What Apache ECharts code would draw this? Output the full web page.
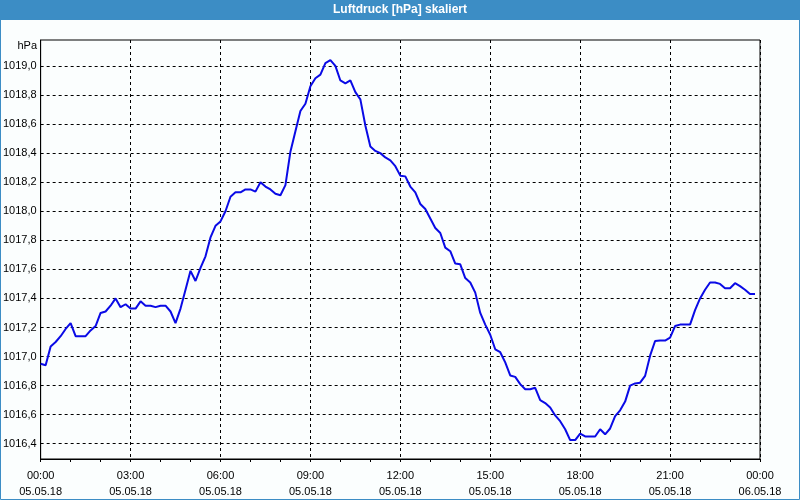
<!DOCTYPE html>
<html>
<head>
<meta charset="utf-8">
<script src="https://cdn.jsdelivr.net/npm/echarts@6/dist/echarts.min.js"></script>
<style>
html,body{margin:0;padding:0;background:#fbfefe;}
#chart{width:800px;height:500px;}
</style>
</head>
<body>
<div id="chart"></div>
<script>
// Luftdruck (hPa), 10-Minuten-Werte ab 05.05.18 00:00
var pressure = [
  1016.95, 1016.94, 1017.07, 1017.10, 1017.14, 1017.19, 1017.23, 1017.14, 1017.14, 1017.14,
  1017.18, 1017.21, 1017.30, 1017.31, 1017.35, 1017.40, 1017.34, 1017.36, 1017.33, 1017.33,
  1017.38, 1017.35, 1017.35, 1017.34, 1017.35, 1017.35, 1017.31, 1017.23, 1017.33, 1017.46,
  1017.59, 1017.52, 1017.61, 1017.69, 1017.82, 1017.90, 1017.93, 1018.00, 1018.10, 1018.13,
  1018.13, 1018.15, 1018.15, 1018.135, 1018.20, 1018.17, 1018.15, 1018.12, 1018.11, 1018.18,
  1018.41, 1018.55, 1018.69, 1018.74, 1018.86, 1018.915, 1018.94, 1019.02, 1019.04, 1019.00,
  1018.90, 1018.88, 1018.90, 1018.82, 1018.77, 1018.59, 1018.445, 1018.415, 1018.40, 1018.37,
  1018.35, 1018.31, 1018.245, 1018.24, 1018.17, 1018.13, 1018.05, 1018.015, 1017.95, 1017.885,
  1017.85, 1017.75, 1017.725, 1017.64, 1017.635, 1017.54, 1017.51, 1017.44, 1017.30, 1017.22,
  1017.15, 1017.05, 1017.03, 1016.96, 1016.87, 1016.86, 1016.81, 1016.775, 1016.775, 1016.785,
  1016.70, 1016.68, 1016.65, 1016.595, 1016.555, 1016.50, 1016.425, 1016.425, 1016.47, 1016.45,
  1016.45, 1016.45, 1016.50, 1016.465, 1016.505, 1016.59, 1016.63, 1016.69, 1016.80, 1016.815,
  1016.82, 1016.867, 1017.006, 1017.107, 1017.11, 1017.11, 1017.13, 1017.21, 1017.22, 1017.22,
  1017.22, 1017.32, 1017.40, 1017.46, 1017.51, 1017.51, 1017.50, 1017.47, 1017.47, 1017.505,
  1017.485, 1017.46, 1017.43, 1017.43
];
var stepMinutes = 10;
var yTicks = [1016.4, 1016.6, 1016.8, 1017.0, 1017.2, 1017.4, 1017.6, 1017.8, 1018.0, 1018.2, 1018.4, 1018.6, 1018.8, 1019.0];
var xTickHours = [0, 3, 6, 9, 12, 15, 18, 21, 24];
var xTimeLabels = ['00:00', '03:00', '06:00', '09:00', '12:00', '15:00', '18:00', '21:00', '00:00'];
var xDateLabels = ['05.05.18', '05.05.18', '05.05.18', '05.05.18', '05.05.18', '05.05.18', '05.05.18', '05.05.18', '06.05.18'];
var titleText = 'Luftdruck [hPa] skaliert';
var unitText = 'hPa';

var seriesData = pressure.map(function (v, i) { return [i * stepMinutes / 60, v]; });

var chart = echarts.init(document.getElementById('chart'), null, {renderer: 'canvas'});
var font = 'Liberation Sans';
chart.setOption({
  animation: false,
  backgroundColor: '#fbfefe',
  textStyle: {fontFamily: font},
  graphic: [
    {type: 'rect', shape: {x: 0, y: 0, width: 800, height: 20}, style: {fill: '#3c8dc5'}, z: 100},
    {type: 'rect', shape: {x: 0.5, y: 0.5, width: 799, height: 499}, style: {fill: null, stroke: '#3c8dc5', lineWidth: 1}, z: 100},
    {type: 'text', x: 400, y: 10, style: {text: titleText, fill: '#ffffff', font: 'bold 12px ' + font, align: 'center', verticalAlign: 'middle'}, z: 101},
    {type: 'text', x: 37, y: 46, style: {text: unitText, fill: '#000', font: '11px ' + font, align: 'right', verticalAlign: 'middle'}, z: 101}
  ],
  grid: {left: 40, right: 40, top: 40, bottom: 40, show: true, borderColor: '#000', borderWidth: 1, backgroundColor: '#fbfefe'},
  xAxis: {
    type: 'value', min: 0, max: 24, interval: 3,
    axisLine: {lineStyle: {color: '#000', width: 1}},
    axisTick: {show: true, length: 3, lineStyle: {color: '#000'}},
    minorTick: {show: true, splitNumber: 3, length: 3, lineStyle: {color: '#000'}},
    splitLine: {show: true, lineStyle: {color: '#000', type: [3, 3], width: 1}},
    axisLabel: {
      color: '#000', fontSize: 11, fontFamily: font, margin: 9, lineHeight: 16,
      formatter: function (v) {
        var i = xTickHours.indexOf(v);
        return i < 0 ? '' : xTimeLabels[i] + '\n' + xDateLabels[i];
      }
    }
  },
  yAxis: {
    type: 'value', min: 1016.295, max: 1019.1785,
    axisLine: {show: true, lineStyle: {color: '#000', width: 1}},
    axisTick: {show: false, customValues: yTicks},
    splitLine: {show: true, lineStyle: {color: '#000', type: [3, 3], width: 1}},
    axisLabel: {
      color: '#000', fontSize: 11, fontFamily: font, margin: 4,
      customValues: yTicks,
      formatter: function (v) { return v.toFixed(1).replace('.', ','); }
    }
  },
  series: [{
    type: 'line', data: seriesData, showSymbol: false, smooth: false,
    lineStyle: {color: '#0a0ae6', width: 2}, itemStyle: {color: '#0a0ae6'}
  }]
});
</script>
</body>
</html>
